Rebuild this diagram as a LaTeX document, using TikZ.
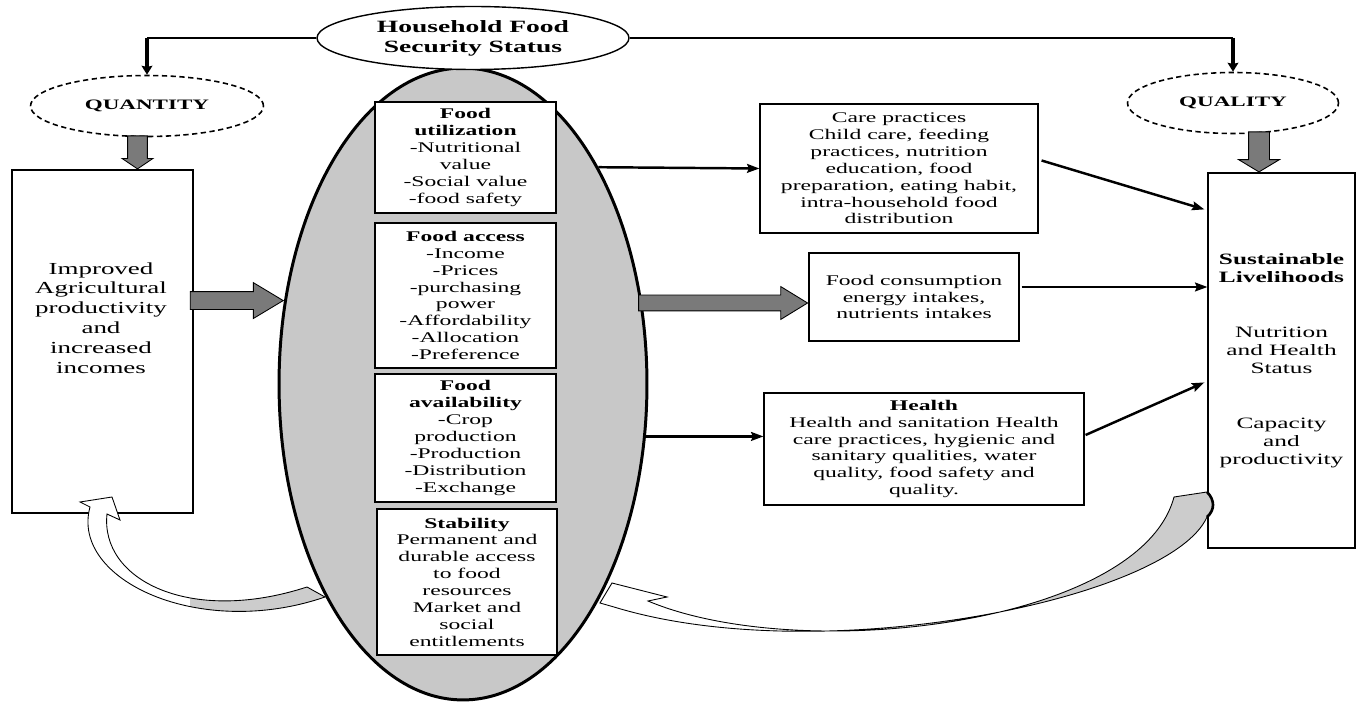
\documentclass[tikz,border=0pt]{standalone}
\usepackage{fontspec}
\setmainfont{Liberation Serif}[FakeStretch=1.6]
\usetikzlibrary{positioning,arrows.meta,shapes.geometric,shapes.arrows,calc}
\definecolor{ovalgray}{HTML}{C8C8C8}
\definecolor{arrgray}{HTML}{7A7A7A}
\definecolor{ribgray}{HTML}{CCCCCC}

\begin{document}
\begin{tikzpicture}[x=0.02cm,y=-0.02cm,>=stealth,thick]
  \tikzstyle{box}=[draw,line width=0.7pt,fill=white,align=center,inner sep=0pt,font=\fontsize{8.4}{9.6}\selectfont]
  \tikzstyle{oval}=[ellipse,draw,align=center,inner sep=0pt]
  \tikzstyle{dimoval}=[oval,line width=0.9pt,dash pattern=on 3pt off 2pt,font=\fontsize{8.2}{9.6}\selectfont\bfseries]
  \tikzstyle{blockarr}=[single arrow,draw,line width=0.5pt,fill=arrgray,inner xsep=0pt,minimum width=0pt,single arrow head indent=0pt,anchor=tip]
  \tikzstyle{link}=[-{Stealth[length=7pt,width=5pt,inset=1pt]},line width=1.4pt]
  \tikzstyle{drop}=[-{Stealth[length=5pt,width=6pt,inset=0.5pt]},line width=2pt]

  \useasboundingbox (0,0) rectangle (1356,702);

  % pillars
  \node[ellipse,draw,line width=1.7pt,fill=ovalgray,minimum width=7.36cm,minimum height=12.64cm,inner sep=0pt] (ell) at (463,384) {};
  \node[oval,fill=white,line width=0.8pt,minimum width=6.24cm,minimum height=1.26cm,font=\fontsize{9.8}{11.3}\selectfont\bfseries] (hfss) at (473,38) {Household Food\\Security Status};

  \node[box,minimum width=3.62cm,minimum height=2.22cm] (util) at (465.5,157.5) {\textbf{Food}\\\textbf{utilization}\\-Nutritional\\value\\-Social value\\-food safety};
  \node[box,minimum width=3.62cm,minimum height=2.9cm] (access) at (465.5,295.5) {\textbf{Food access}\\-Income\\-Prices\\-purchasing\\power\\-Affordability\\-Allocation\\-Preference};
  \node[box,minimum width=3.62cm,minimum height=2.56cm] (avail) at (465.5,438) {\textbf{Food}\\\textbf{availability}\\-Crop\\production\\-Production\\-Distribution\\-Exchange};
  \node[box,minimum width=3.6cm,minimum height=2.92cm] (stab) at (467,582) {\textbf{Stability}\\Permanent and\\durable access\\to food\\resources\\Market and\\social\\entitlements};

  % left side
  \node[dimoval,minimum width=4.66cm,minimum height=1.22cm] (qty) at (147,106) {QUANTITY};
  \node[box,minimum width=3.62cm,minimum height=6.86cm] (agri) at (102.5,341.5) {};
  \node[align=center,font=\fontsize{9.6}{11.3}\selectfont] (agritext) at (101,318) {Improved\\Agricultural\\productivity\\and\\increased\\incomes};

  % right side
  \node[dimoval,minimum width=4.22cm,minimum height=1.22cm] (qual) at (1233,103) {QUALITY};
  \node[box,minimum width=5.56cm,minimum height=2.58cm] (care) at (899,168.5) {Care practices\\Child care, feeding\\practices, nutrition\\education, food\\preparation, eating habit,\\intra-household food\\distribution};
  \node[box,minimum width=4.2cm,minimum height=1.76cm] (fc) at (914,297) {Food consumption\\energy intakes,\\nutrients intakes};
  \node[box,minimum width=6.4cm,minimum height=2.24cm] (health) at (924,449) {\textbf{Health}\\Health and sanitation Health\\care practices, hygienic and\\sanitary qualities, water\\quality, food safety and\\quality.};
  \node[box,minimum width=2.94cm,minimum height=7.5cm,font=\fontsize{9}{10.3}\selectfont] (sl) at (1281.5,360.5) {\textbf{Sustainable}\\\textbf{Livelihoods}\\[21pt]Nutrition\\and Health\\Status\\[21pt]Capacity\\and\\productivity};

  % status to quantity and quality
  \draw[line width=0.8pt] (hfss.west) -- (qty.north |- hfss.west);
  \draw[drop] (qty.north |- hfss.west) -- (qty.north);
  \draw[line width=0.8pt] (hfss.east) -- (qual.north |- hfss.east);
  \draw[drop] (qual.north |- hfss.east) -- (qual.north);

  % block arrows
  \node[blockarr,rotate=-90,minimum height=0.66cm,inner ysep=0.19cm,single arrow head extend=0.11cm,single arrow tip angle=112] (qarrow) at ($(agri.north)+(35,0)$) {};
  \node[blockarr,rotate=-90,minimum height=0.8cm,inner ysep=0.2cm,single arrow head extend=0.2cm,single arrow tip angle=118] (larrow) at ($(sl.north)+(-22.5,0)$) {};
  \node[blockarr,minimum height=1.86cm,inner ysep=0.17cm,single arrow head extend=0.18cm,single arrow tip angle=62] (iarrow) at (ell.155.5) {};
  \node[blockarr,minimum height=3.38cm,inner ysep=0.15cm,single arrow head extend=0.17cm,single arrow tip angle=63] (carrow) at ($(fc.west)+(0,6)$) {};

  % links
  \draw[link] (ell.58.2) -- (care.west);
  \draw[link] (ell.-16.6) -- (ell.-16.6 -| health.west);
  \draw[link] ($(care.east)+(3,-8)$) -- ($(sl.north west)+(-3,37)$);
  \coordinate (fcout) at ($(fc.east)+(2,-10)$);
  \draw[link] (fcout) -- (fcout -| sl.west);
  \draw[link] ($(health.east)+(1,-14)$) -- ($(sl.north west)+(-3,210)$);

  % feedback ribbons
  \def\backrib{(307,587) .. controls (190,625) and (100,580) .. (107,514) -- (120,520) -- (112,497) -- (80,502) -- (90,507) .. controls (70,580) and (200,640) .. (325,597) -- cycle}
  \def\looprib{(600,603) -- (612,583) -- (667,597) -- (648,601) .. controls (800,665) and (1140,625) .. (1174,497) -- (1207,492) .. controls (1215,500) and (1215,510) .. (1207,517) .. controls (1170,600) and (820,670) .. (614,607) -- cycle}
  \fill[white] \backrib;
  \begin{scope}
    \clip \backrib;
    \fill[ribgray] (190,550) rectangle (340,650);
  \end{scope}
  \draw[line width=0.5pt] \backrib;
  \fill[white] \looprib;
  \begin{scope}
    \clip \looprib;
    \fill[ribgray] (930,480) rectangle (1220,660);
  \end{scope}
  \draw[line width=0.5pt] \looprib;
  \draw[line width=1.5pt] (1207,492) .. controls (1215,500) and (1215,510) .. (1207,517);
\end{tikzpicture}
\end{document}
